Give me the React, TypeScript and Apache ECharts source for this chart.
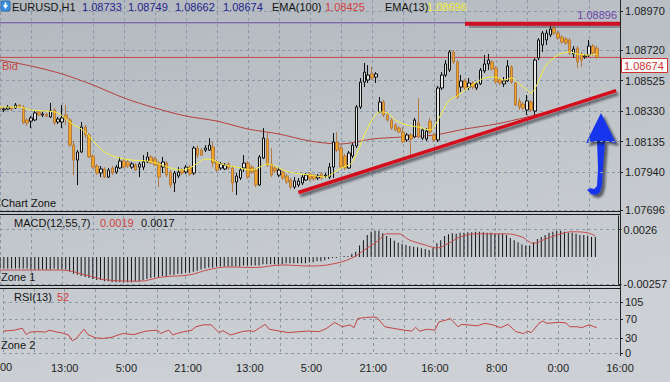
import React, { useEffect, useRef } from "react";
import * as echarts from "echarts";

const FONT = "Liberation Sans";
const timeLabels = ["21:00", "13:00", "5:00", "21:00", "13:00", "5:00", "21:00", "16:00", "8:00", "0:00", "16:00"];
const barCount = 161;
const categories = Array.from({ length: barCount }, (_, i) => String(i));

const candleOpen = [
  1.0835, 1.08337, 1.08343, 1.0835, 1.0835, 1.08369, 1.08356, 1.08273, 1.08266, 1.08273,
  1.08324, 1.08305, 1.08311, 1.08292, 1.08337, 1.0826, 1.0826, 1.08305, 1.08273, 1.08112,
  1.08016, 1.08068, 1.08228, 1.08177, 1.08042, 1.07978, 1.07933, 1.07959, 1.07907, 1.07965,
  1.07939, 1.07965, 1.0801, 1.08004, 1.07971, 1.07984, 1.07971, 1.07971, 1.08004, 1.08036,
  1.08023, 1.07997, 1.07971, 1.07997, 1.07939, 1.07869, 1.07914, 1.07952, 1.07939, 1.07971,
  1.07933, 1.08093, 1.0808, 1.0808, 1.0808, 1.081, 1.08004, 1.07965, 1.07959, 1.07991,
  1.07965, 1.07875, 1.07901, 1.07965, 1.07997, 1.07971, 1.07952, 1.07856, 1.08029, 1.08151,
  1.07991, 1.07965, 1.0792, 1.07939, 1.07914, 1.07888, 1.07843, 1.07856, 1.07869, 1.07888,
  1.07927, 1.0792, 1.07901, 1.07927, 1.07914, 1.07907, 1.07971, 1.08132, 1.08093, 1.08042,
  1.07965, 1.08042, 1.08106, 1.08356, 1.08516, 1.08529, 1.08568, 1.08548, 1.08324, 1.08388,
  1.08305, 1.08273, 1.08241, 1.08221, 1.08196, 1.08145, 1.08177, 1.08164, 1.08254, 1.08157,
  1.08151, 1.08266, 1.08177, 1.08145, 1.08478, 1.08561, 1.08593, 1.08709, 1.08645, 1.08484,
  1.08523, 1.08484, 1.0851, 1.08478, 1.08504, 1.08587, 1.08632, 1.08645, 1.08606, 1.08529,
  1.08504, 1.08523, 1.08613, 1.0851, 1.08395, 1.08375, 1.08337, 1.08388, 1.0833, 1.0867,
  1.08754, 1.08786, 1.08818, 1.08863, 1.0883, 1.08805, 1.08792, 1.08786, 1.08696, 1.08734,
  1.08696, 1.08677, 1.08689, 1.08747, 1.08733,
];
const candleClose = [
  1.08343, 1.08343, 1.08356, 1.08343, 1.08369, 1.08356, 1.08254, 1.08254, 1.08286, 1.08318,
  1.08305, 1.08311, 1.08298, 1.0833, 1.08254, 1.08279, 1.08286, 1.08279, 1.08112, 1.08016,
  1.08068, 1.08228, 1.08177, 1.08036, 1.07971, 1.07933, 1.07959, 1.07907, 1.07952, 1.07933,
  1.07971, 1.0801, 1.07971, 1.07978, 1.07991, 1.07952, 1.07991, 1.08004, 1.08036, 1.07997,
  1.07984, 1.07907, 1.08004, 1.0792, 1.07856, 1.07933, 1.07939, 1.07933, 1.07971, 1.07927,
  1.08093, 1.08048, 1.08048, 1.08093, 1.08112, 1.07997, 1.07952, 1.07991, 1.07984, 1.07965,
  1.07869, 1.07914, 1.07952, 1.07997, 1.07907, 1.07939, 1.07856, 1.08036, 1.08157, 1.07984,
  1.0792, 1.07946, 1.07952, 1.07901, 1.07875, 1.07843, 1.07882, 1.07882, 1.07907, 1.0792,
  1.07895, 1.07895, 1.07914, 1.07901, 1.0792, 1.07971, 1.08132, 1.0808, 1.07971, 1.07965,
  1.08061, 1.08112, 1.08356, 1.08516, 1.0858, 1.08561, 1.08542, 1.08568, 1.08388, 1.08305,
  1.08273, 1.08221, 1.08209, 1.08196, 1.08132, 1.08177, 1.08151, 1.08273, 1.08164, 1.08209,
  1.08202, 1.08196, 1.08145, 1.08478, 1.08561, 1.08632, 1.08709, 1.08645, 1.0842, 1.08523,
  1.08478, 1.0851, 1.08484, 1.08504, 1.08593, 1.08632, 1.08657, 1.086, 1.08516, 1.0851,
  1.08523, 1.08619, 1.08516, 1.08369, 1.08356, 1.0835, 1.08395, 1.08337, 1.08657, 1.08786,
  1.0883, 1.0883, 1.08856, 1.0883, 1.08798, 1.08773, 1.08766, 1.08702, 1.08728, 1.08645,
  1.08657, 1.08683, 1.08747, 1.08702, 1.08674,
];
const candleLow = [
  1.0833, 1.08324, 1.08337, 1.0833, 1.08343, 1.0835, 1.08247, 1.08234, 1.08221, 1.08266,
  1.08298, 1.08292, 1.08292, 1.08286, 1.08241, 1.08247, 1.08221, 1.08241, 1.081, 1.0792,
  1.07856, 1.08061, 1.08157, 1.08029, 1.07959, 1.0792, 1.07907, 1.07901, 1.07901, 1.0792,
  1.07927, 1.07959, 1.07965, 1.07965, 1.07959, 1.07946, 1.07907, 1.07952, 1.07997, 1.07991,
  1.07978, 1.07843, 1.07933, 1.07907, 1.07837, 1.07811, 1.07901, 1.0792, 1.07927, 1.07914,
  1.0792, 1.08029, 1.08042, 1.08068, 1.08074, 1.07971, 1.07939, 1.07952, 1.07952, 1.07952,
  1.07811, 1.07792, 1.07888, 1.07939, 1.07895, 1.07927, 1.07843, 1.0785, 1.08023, 1.07971,
  1.07907, 1.07933, 1.07907, 1.07888, 1.07863, 1.07831, 1.07831, 1.07843, 1.07856, 1.07882,
  1.07882, 1.07882, 1.07888, 1.07888, 1.07901, 1.07895, 1.07901, 1.08068, 1.07959, 1.07952,
  1.07959, 1.08029, 1.08093, 1.08343, 1.08484, 1.0851, 1.08529, 1.0851, 1.08318, 1.08292,
  1.0826, 1.08209, 1.08202, 1.08189, 1.08125, 1.08132, 1.08048, 1.08157, 1.08157, 1.08145,
  1.08138, 1.08183, 1.08132, 1.08132, 1.08465, 1.08548, 1.0858, 1.08632, 1.08407, 1.08452,
  1.08465, 1.08465, 1.08471, 1.08465, 1.08497, 1.08574, 1.08593, 1.08587, 1.08504, 1.08497,
  1.08484, 1.08516, 1.08504, 1.08362, 1.08337, 1.08337, 1.08305, 1.08324, 1.08305, 1.08657,
  1.08709, 1.08754, 1.08805, 1.08818, 1.08786, 1.0876, 1.08754, 1.08689, 1.0867, 1.08606,
  1.08613, 1.08664, 1.08677, 1.08683, 1.08662,
];
const candleHigh = [
  1.08362, 1.08356, 1.08369, 1.08362, 1.08382, 1.08375, 1.08369, 1.08286, 1.08298, 1.0833,
  1.0833, 1.08324, 1.08318, 1.08382, 1.0835, 1.08292, 1.08369, 1.08369, 1.08286, 1.08138,
  1.0808, 1.0826, 1.08241, 1.08189, 1.08055, 1.07991, 1.07978, 1.07971, 1.07965, 1.07978,
  1.07984, 1.08036, 1.08023, 1.08016, 1.08004, 1.07997, 1.08004, 1.08048, 1.08068, 1.08048,
  1.08036, 1.0801, 1.08036, 1.0801, 1.07952, 1.07946, 1.07971, 1.07965, 1.07984, 1.07984,
  1.08106, 1.08112, 1.08093, 1.08112, 1.08157, 1.08132, 1.08016, 1.08004, 1.07997, 1.08004,
  1.07978, 1.07933, 1.07965, 1.08048, 1.0801, 1.07984, 1.07965, 1.08048, 1.08221, 1.08196,
  1.08093, 1.07984, 1.07971, 1.07952, 1.07927, 1.07901, 1.07907, 1.07901, 1.0792, 1.07933,
  1.07939, 1.07927, 1.07927, 1.07939, 1.07933, 1.07997, 1.08189, 1.08196, 1.08106, 1.08055,
  1.08074, 1.08125, 1.08369, 1.08542, 1.08638, 1.08625, 1.08613, 1.0858, 1.0842, 1.08401,
  1.08318, 1.08286, 1.08254, 1.08234, 1.08228, 1.08189, 1.08189, 1.08286, 1.08414, 1.08221,
  1.08221, 1.08286, 1.08189, 1.08491, 1.0858, 1.08657, 1.08721, 1.08721, 1.08657, 1.08561,
  1.08536, 1.08542, 1.08523, 1.08516, 1.08606, 1.08689, 1.08696, 1.08657, 1.08619, 1.08542,
  1.08548, 1.08657, 1.08625, 1.08516, 1.08414, 1.08388, 1.08433, 1.08401, 1.0867, 1.08798,
  1.08843, 1.0885, 1.08896, 1.08882, 1.08843, 1.08818, 1.08805, 1.08798, 1.08747, 1.08747,
  1.08709, 1.08696, 1.08786, 1.0876, 1.08749,
];

const ema13 = [
  [0, 1.08356], [5, 1.08356], [8, 1.08337], [12, 1.0833], [15, 1.08318], [17, 1.08279], [19, 1.08241],
  [21, 1.08215], [23, 1.0817], [25, 1.08112], [27, 1.08068], [29, 1.08042], [31, 1.08029], [34, 1.08016],
  [38, 1.0801], [41, 1.07991], [44, 1.07965], [47, 1.07952], [49, 1.07965], [51, 1.07997], [53, 1.08023],
  [55, 1.08016], [57, 1.07991], [61, 1.07971], [65, 1.07952], [67, 1.07971], [69, 1.07991], [71, 1.07978],
  [73, 1.07952], [76, 1.07933], [80, 1.0792], [84, 1.07907], [86, 1.07933], [88, 1.07965], [90, 1.07984],
  [91, 1.08004], [92, 1.08055], [93, 1.08112], [94, 1.08177], [95, 1.08228], [96, 1.08273], [98, 1.08324],
  [100, 1.08318], [102, 1.08273], [105, 1.08241], [108, 1.08228], [111, 1.08209], [112, 1.08228],
  [114, 1.08318], [116, 1.08401], [118, 1.08427], [120, 1.08465], [123, 1.08516], [125, 1.08542],
  [128, 1.08548], [130, 1.08529], [132, 1.08542], [134, 1.08504], [136, 1.08465], [137, 1.08446],
  [138, 1.08471], [140, 1.0858], [141, 1.08625], [144, 1.08689], [147, 1.08709], [149, 1.08696],
  [152, 1.08689], [154, 1.08696],
];
const ema100 = [
  [0, 1.08657], [8, 1.08619], [16, 1.08568], [24, 1.08497], [32, 1.08414], [40, 1.0835], [48, 1.08298],
  [56, 1.08266], [64, 1.08215], [72, 1.08183], [80, 1.08138], [88, 1.08119], [96, 1.08151], [104, 1.08164],
  [112, 1.08176], [120, 1.08215], [128, 1.08247], [136, 1.08292], [144, 1.08343], [154, 1.08425],
];

const macdMain = [
  -0.0011, -0.0011, -0.0011, -0.0011, -0.0011, -0.0011, -0.0011, -0.0011, -0.0012, -0.0012,
  -0.0012, -0.0012, -0.0012, -0.0012, -0.0011, -0.0012, -0.0012, -0.0012, -0.0014, -0.0016,
  -0.0017, -0.0018, -0.0019, -0.002, -0.0021, -0.0022, -0.0022, -0.0023, -0.0023, -0.0024,
  -0.0024, -0.0024, -0.0024, -0.0024, -0.0024, -0.0023, -0.0023, -0.0022, -0.0021, -0.002,
  -0.0019, -0.0019, -0.0018, -0.0018, -0.0017, -0.0017, -0.0016, -0.0016, -0.0015, -0.0015,
  -0.0014, -0.0013, -0.0012, -0.0011, -0.001, -0.001, -0.0009, -0.0009, -0.0009, -0.0009,
  -0.0009, -0.0009, -0.0009, -0.0008, -0.0008, -0.0008, -0.0008, -0.0008, -0.0007, -0.0007,
  -0.0007, -0.0007, -0.0007, -0.0007, -0.0006, -0.0006, -0.0006, -0.0006, -0.0006, -0.0006,
  -0.0005, -0.0005, -0.0004, -0.0004, -0.0003, -0.0002, -0.0001, -0.0001, 0.00005, 0.0001,
  0.0001, 0.0003, 0.0005, 0.0011, 0.0016, 0.0021, 0.0024, 0.0025, 0.0025, 0.00225,
  0.002, 0.0018, 0.00155, 0.00136, 0.00124, 0.00114, 0.00105, 0.00098, 0.00092, 0.00083,
  0.00076, 0.00067, 0.00083, 0.0013, 0.0016, 0.002, 0.00216, 0.00225, 0.0022, 0.0023,
  0.0023, 0.00235, 0.00235, 0.0024, 0.0024, 0.00235, 0.0023, 0.0023, 0.0022, 0.0022,
  0.0022, 0.0021, 0.0018, 0.0016, 0.0014, 0.0012, 0.0011, 0.0011, 0.0014, 0.0017,
  0.0019, 0.0021, 0.0023, 0.0024, 0.0025, 0.0025, 0.0024, 0.0023, 0.0023, 0.0022,
  0.0021, 0.0021, 0.002, 0.0019, 0.0019,
];
const macdSignal = [
  [0, -0.00124], [16, -0.00124], [22, -0.0017], [28, -0.0022], [36, -0.0023], [42, -0.0019],
  [49, -0.0017], [54, -0.0012], [59, -0.00095], [66, -0.001], [73, -0.00076], [80, -0.00086],
  [86, -0.00067], [91, -0.0001], [95, 0.00086], [98, 0.0016], [100, 0.0022], [103, 0.0022],
  [106, 0.0016], [110, 0.00114], [113, 0.00086], [116, 0.0013], [119, 0.0019], [123, 0.0022],
  [131, 0.0022], [135, 0.0019], [138, 0.0013], [141, 0.0017], [145, 0.0022], [148, 0.0024],
  [152, 0.0023], [154, 0.002],
];
const rsi13 = [
  [0, 45], [3, 47], [5, 51], [6, 38], [7, 43], [9, 44], [11, 43], [12, 47], [14, 43], [15, 42],
  [17, 37], [18, 25], [19, 30], [21, 49], [22, 38], [24, 31], [26, 30], [28, 32], [31, 40], [34, 38],
  [37, 45], [40, 47], [41, 40], [42, 44], [43, 47], [44, 37], [45, 40], [47, 44], [49, 47], [50, 54],
  [52, 58], [54, 58], [56, 42], [57, 46], [59, 37], [62, 44], [64, 46], [65, 44], [67, 54], [68, 59],
  [69, 49], [71, 46], [74, 42], [77, 44], [79, 45], [82, 44], [84, 51], [86, 63], [88, 54], [90, 58],
  [91, 52], [92, 71], [94, 73], [96, 74], [97, 73], [99, 54], [101, 51], [104, 47], [106, 45], [107, 53],
  [108, 45], [110, 49], [112, 47], [113, 64], [115, 68], [116, 71], [118, 54], [119, 59], [123, 56],
  [125, 61], [127, 58], [129, 52], [131, 59], [133, 44], [135, 40], [136, 45], [137, 42], [139, 61],
  [140, 66], [141, 61], [144, 63], [146, 62], [147, 54], [149, 54], [150, 52], [152, 58], [153, 55],
  [154, 52],
];

const priceTicks = [1.07696, 1.0794, 1.08135, 1.0833, 1.08525, 1.0872, 1.0897];
const macdTicks = [-0.00257, 0.0026];
const rsiTicks = [0, 30, 70, 105];
const trendLine = [[77, 1.07808], [159, 1.08461]];
const resistanceLine = [[120, 1.0889], [160, 1.0889]];
const resistanceShadow = [[121, 1.08872], [160, 1.08872]];
const highLevelLine = [[0, 1.08896], [160, 1.08896]];
const bidLevelLine = [[0, 1.08674], [160, 1.08674]];

const gridDash = { color: "#8a9aab", type: [3, 3] as any, width: 1 };
const axisColor = "#242424";

function makeText(x: number, y: number, text: string, fill: string, align = "left") {
  return {
    type: "text",
    x,
    y,
    z: 50,
    style: { text, fill, font: `11px "${FONT}"`, align, verticalAlign: "middle" },
  };
}

function levelSeries(data: number[][], color: string, width: number, z: number) {
  return {
    type: "line", xAxisIndex: 0, yAxisIndex: 0, data, showSymbol: false, silent: true, z,
    lineStyle: { color, width },
  };
}

export default function App() {
  const ref = useRef<HTMLDivElement>(null);
  useEffect(() => {
    if (!ref.current) return;
    const chart = echarts.init(ref.current, null, { renderer: "svg" });
    const candles = candleOpen.map((o, k) => [o, candleClose[k], candleLow[k], candleHigh[k]]);
    const xAxes = [0, 1, 2].map((g) => ({
      type: "category",
      gridIndex: g,
      data: categories,
      boundaryGap: false,
      axisLine: { show: false },
      axisTick: { show: false },
      axisLabel:
        g === 2
          ? {
              show: true,
              interval: 15,
              formatter: (_v: string, idx: number) => (idx === 0 ? "" : timeLabels[idx / 16] ?? ""),
              color: "#1e1e1e",
              fontSize: 11,
              fontFamily: FONT,
              margin: 9,
            }
          : { show: false },
      splitLine: { show: true, interval: 7, lineStyle: gridDash },
    }));
    const yCommon = {
      type: "value",
      position: "right",
      axisLine: { show: true, lineStyle: { color: axisColor } },
      splitLine: { show: true, lineStyle: gridDash },
    };
    const labelStyle = { color: "#1e1e1e", fontSize: 11, fontFamily: FONT, margin: 5 };
    const option: any = {
      animation: false,
      backgroundColor: {
        type: "linear", x: 0, y: 0, x2: 0.3, y2: 1,
        colorStops: [
          { offset: 0, color: "#b2b8be" },
          { offset: 1, color: "#cdd1d5" },
        ],
      },
      grid: [
        { left: 0, right: 50, top: 0, height: 210 },
        { left: 0, right: 50, top: 216, height: 68 },
        { left: 0, right: 50, top: 289, height: 64 },
      ],
      xAxis: xAxes,
      yAxis: [
        {
          ...yCommon, gridIndex: 0, min: 1.07696, max: 1.09042,
          axisTick: { show: true, length: 3, customValues: priceTicks, lineStyle: { color: axisColor } },
          axisLabel: { ...labelStyle, customValues: priceTicks, formatter: (v: number) => v.toFixed(5) },
        },
        {
          ...yCommon, gridIndex: 1, min: -0.00257, max: 0.0039,
          axisTick: { show: true, length: 3, customValues: macdTicks, lineStyle: { color: axisColor } },
          axisLabel: { ...labelStyle, customValues: macdTicks, formatter: (v: number) => String(v) },
        },
        {
          ...yCommon, gridIndex: 2, min: 0, max: 131.7,
          axisTick: { show: true, length: 3, customValues: rsiTicks, lineStyle: { color: axisColor } },
          axisLabel: { ...labelStyle, customValues: rsiTicks, formatter: (v: number) => String(v) },
        },
      ],
      series: [
        levelSeries(highLevelLine, "#6a4aa8", 1, 1),
        levelSeries(bidLevelLine, "#c84848", 1, 1),
        {
          type: "line", xAxisIndex: 0, yAxisIndex: 0, data: ema100, showSymbol: false, smooth: 0.3,
          lineStyle: { color: "#b5403c", width: 1 }, z: 2,
        },
        {
          type: "candlestick", xAxisIndex: 0, yAxisIndex: 0, data: candles, barWidth: 3, z: 3,
          itemStyle: {
            color: "#e6e8e8", color0: "#f0a424", borderColor: "#0e0e0e", borderColor0: "#b47a44", borderWidth: 1,
          },
        },
        {
          type: "line", xAxisIndex: 0, yAxisIndex: 0, data: ema13, showSymbol: false, smooth: 0.3,
          lineStyle: { color: "#f4f03c", width: 1 }, z: 4,
        },
        {
          type: "line", xAxisIndex: 0, yAxisIndex: 0, data: trendLine, showSymbol: false, z: 6,
          lineStyle: { color: "#d3101e", width: 3.5, shadowColor: "rgba(20,20,30,0.55)", shadowBlur: 2, shadowOffsetX: 2, shadowOffsetY: 3 },
        },
        levelSeries(resistanceShadow, "rgba(40,40,50,0.35)", 3, 5),
        levelSeries(resistanceLine, "#cf0f24", 4, 6),
        {
          type: "bar", xAxisIndex: 1, yAxisIndex: 1, data: macdMain, barWidth: 1,
          itemStyle: { color: "#141414" },
        },
        {
          type: "line", xAxisIndex: 1, yAxisIndex: 1, data: macdSignal, showSymbol: false, smooth: 0.4,
          lineStyle: { color: "#c84a4a", width: 1 },
        },
        {
          type: "line", xAxisIndex: 2, yAxisIndex: 2, data: rsi13, showSymbol: false,
          lineStyle: { color: "#c44444", width: 1 },
        },
      ],
      graphic: [
        { type: "line", shape: { x1: 0, y1: 211.5, x2: 620, y2: 211.5 }, style: { stroke: "#1a1a1a", lineWidth: 1 }, z: 40 },
        { type: "line", shape: { x1: 0, y1: 214.5, x2: 620, y2: 214.5 }, style: { stroke: "#1a1a1a", lineWidth: 1 }, z: 40 },
        { type: "line", shape: { x1: 0, y1: 285.5, x2: 620, y2: 285.5 }, style: { stroke: "#1a1a1a", lineWidth: 1 }, z: 40 },
        { type: "line", shape: { x1: 0, y1: 288.5, x2: 620, y2: 288.5 }, style: { stroke: "#1a1a1a", lineWidth: 1 }, z: 40 },
        { type: "line", shape: { x1: 620.5, y1: 0, x2: 620.5, y2: 356 }, style: { stroke: axisColor, lineWidth: 1 }, z: 40 },
        { type: "rect", shape: { x: 1, y: 1, width: 9, height: 10, r: 1 }, style: { fill: "#3c8fe0", stroke: "#2a6fb8" }, z: 50 },
        { type: "polygon", shape: { points: [[3, 5], [8, 5], [5.5, 9]] }, style: { fill: "#ffffff" }, z: 51 },
        { type: "rect", shape: { x: 4.7, y: 2.5, width: 1.6, height: 3 }, style: { fill: "#ffffff" }, z: 51 },
        makeText(12, 7, "EURUSD,H1", "#141414"),
        makeText(82, 7, "1.08733", "#24248c"),
        makeText(128, 7, "1.08749", "#24248c"),
        makeText(175, 7, "1.08662", "#24248c"),
        makeText(223, 7, "1.08674", "#24248c"),
        makeText(272, 7, "EMA(100)", "#141414"),
        makeText(325, 7, "1.08425", "#d04040"),
        makeText(385, 7, "EMA(13)", "#141414"),
        makeText(427, 7, "1.08696", "#f2ee3a"),
        makeText(617, 15, "1.08896", "#6a44a8", "right"),
        makeText(2, 66, "Bid", "#c84848"),
        makeText(1, 203, "Chart Zone", "#141414"),
        makeText(14, 223, "MACD(12,55,7)", "#141414"),
        makeText(100, 223, "0.0019", "#d04040"),
        makeText(141, 223, "0.0017", "#141414"),
        makeText(1, 277, "Zone 1", "#141414"),
        makeText(14, 297, "RSI(13)", "#141414"),
        makeText(57, 297, "52", "#d04040"),
        makeText(1, 345, "Zone 2", "#141414"),
        makeText(0, 367, "00", "#1e1e1e"),
        { type: "rect", shape: { x: 621.5, y: 58.5, width: 46, height: 14 }, style: { fill: "#ffffff", stroke: "#d03030", lineWidth: 1 }, z: 50 },
        makeText(624, 65.5, "1.08674", "#d03030"),
        {
          type: "group", z: 60,
          children: [
            {
              type: "polygon",
              shape: { points: [[597, 141], [605, 141], [603, 165], [602, 185], [600, 192], [596, 195], [591, 194], [587, 190], [590, 188], [594, 189], [597, 186], [598, 168]] },
              style: { fill: "#1834ec", shadowColor: "rgba(20,20,30,0.6)", shadowBlur: 2, shadowOffsetX: 3, shadowOffsetY: 3 },
            },
            {
              type: "polygon",
              shape: { points: [[601, 113], [616, 143], [606, 141], [596, 141], [586, 143]] },
              style: { fill: "#1834ec", shadowColor: "rgba(20,20,30,0.6)", shadowBlur: 2, shadowOffsetX: 3, shadowOffsetY: 3 },
            },
          ],
        },
      ],
    };
    chart.setOption(option);
    return () => chart.dispose();
  }, []);
  return <div ref={ref} style={{ position: "fixed", left: 0, top: 0, width: 670, height: 382 }} />;
}
